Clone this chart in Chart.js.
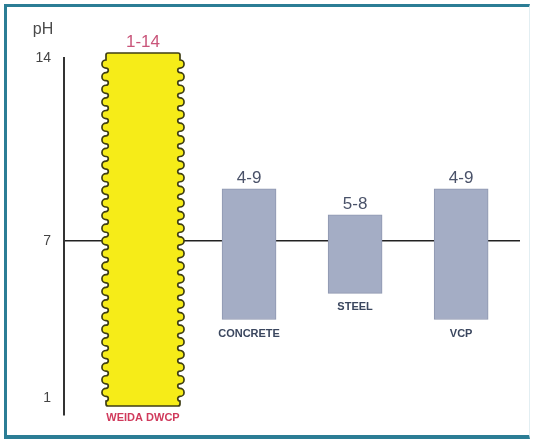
<!DOCTYPE html>
<html>
<head>
<meta charset="utf-8">
<script src="https://cdn.jsdelivr.net/npm/chart.js@4.4.0/dist/chart.umd.min.js"></script>
<style>
    body { margin: 0; background: #fff; }
    #wrap { position: relative; width: 533px; height: 440px; }
    #frame {
        position: absolute; left: 4px; top: 4px; width: 522px; height: 428px;
        border-left: 3px solid #2b7d95; border-top: 3px solid #2b7d95;
        border-bottom: 4px solid #2b7d95; border-right: 1px solid #e2eef2;
    }
    #phChart { position: absolute; left: 0; top: 0; }
</style>
</head>
<body>
<div id="wrap">
    <div id="frame"></div>
    <canvas id="phChart" width="533" height="440"></canvas>
</div>
<script>
const materials = ['WEIDA DWCP', 'CONCRETE', 'STEEL', 'VCP'];
const phLow = [1, 4, 5, 4];
const phHigh = [14, 9, 8, 9];
const yTicks = [1, 7, 14];

const rangeLabels = materials.map((m, i) => `${phLow[i]}-${phHigh[i]}`);

const weidaData = [{ x: 0, y: [phLow[0], phHigh[0]] }];
const otherData = materials.slice(1).map((m, i) => ({ x: i + 1, y: [phLow[i + 1], phHigh[i + 1]] }));

// yellow pipe with corrugated (wavy) edges
const wavyBar = {
    id: 'wavyBar',
    afterDatasetsDraw(chart) {
        const ctx = chart.ctx;
        const el = chart.getDatasetMeta(0).data[0];
        if (!el) return;
        const left = el.x - el.width / 2;
        const right = el.x + el.width / 2;
        const top = el.y - 5;
        const bottom = el.base + 8;
        const waveTop = top + 7;
        const waveBottom = bottom - 5;
        const count = Math.round((waveBottom - waveTop) / 12.6);
        const step = (waveBottom - waveTop) / count;
        const big = step * 0.32;   // outward bump radius
        const small = step * 0.18; // inward notch radius

        ctx.save();
        ctx.beginPath();
        ctx.moveTo(left + 2, top);
        ctx.lineTo(right - 2, top);
        ctx.quadraticCurveTo(right, top, right, top + 2);
        ctx.lineTo(right, waveTop);
        for (let i = 0; i < count; i++) {
            const y = waveTop + i * step;
            ctx.arc(right, y + big, big, -Math.PI / 2, Math.PI / 2, false);
            ctx.arc(right, y + 2 * big + small, small, -Math.PI / 2, Math.PI / 2, true);
        }
        ctx.lineTo(right, bottom - 2);
        ctx.quadraticCurveTo(right, bottom, right - 2, bottom);
        ctx.lineTo(left + 2, bottom);
        ctx.quadraticCurveTo(left, bottom, left, bottom - 2);
        ctx.lineTo(left, waveBottom);
        for (let i = 0; i < count; i++) {
            const y = waveBottom - i * step;
            ctx.arc(left, y - small, small, Math.PI / 2, -Math.PI / 2, true);
            ctx.arc(left, y - 2 * small - big, big, Math.PI / 2, -Math.PI / 2, false);
        }
        ctx.lineTo(left, top + 2);
        ctx.quadraticCurveTo(left, top, left + 2, top);
        ctx.closePath();
        ctx.fillStyle = '#f6ec18';
        ctx.fill();
        ctx.lineWidth = 1.7;
        ctx.strokeStyle = '#3f3e14';
        ctx.stroke();
        ctx.restore();
    }
};

// range labels above, names below each bar, plus the pH axis title
const barLabels = {
    id: 'barLabels',
    afterDatasetsDraw(chart) {
        const ctx = chart.ctx;
        const els = [chart.getDatasetMeta(0).data[0], ...chart.getDatasetMeta(1).data];
        ctx.save();
        ctx.textAlign = 'center';
        els.forEach((el, i) => {
            const weida = i === 0;
            const top = weida ? el.y - 5 : el.y;
            const bottom = weida ? el.base + 8 : el.base;
            ctx.fillStyle = weida ? '#c9557a' : '#4a5269';
            ctx.font = '17px "Liberation Sans", Arial, sans-serif';
            ctx.textBaseline = 'alphabetic';
            ctx.fillText(rangeLabels[i], el.x, top - 6);
            ctx.fillStyle = weida ? '#d03a5c' : '#3a465e';
            ctx.font = 'bold 11px "Liberation Sans", Arial, sans-serif';
            ctx.textBaseline = 'middle';
            ctx.fillText(materials[i], el.x, bottom + (weida ? 12 : 14));
        });
        const y = chart.scales.y;
        ctx.fillStyle = '#4a4a4a';
        ctx.font = '16px "Liberation Sans", Arial, sans-serif';
        ctx.textBaseline = 'middle';
        ctx.fillText('pH', y.right - 21, 30);
        ctx.restore();
    }
};

new Chart('phChart', {
    type: 'bar',
    data: {
        datasets: [
            {
                label: materials[0],
                data: weidaData,
                backgroundColor: 'transparent',
                borderWidth: 0,
                barThickness: 74
            },
            {
                label: 'others',
                data: otherData,
                backgroundColor: '#a4adc5',
                borderColor: '#8e97b0',
                borderWidth: 1,
                borderSkipped: false,
                barThickness: 54
            }
        ]
    },
    options: {
        responsive: false,
        animation: false,
        grouped: false,
        layout: { padding: { top: 58, right: 13, bottom: 25, left: 0 } },
        plugins: {
            legend: { display: false },
            tooltip: { enabled: false }
        },
        scales: {
            x: {
                type: 'linear',
                min: -0.745,
                max: 3.555,
                offset: false,
                display: false
            },
            y: {
                min: 0.35,
                max: 14,
                afterFit(scale) { scale.width = 64; },
                afterBuildTicks(scale) {
                    scale.ticks = yTicks.map(v => ({ value: v }));
                },
                ticks: {
                    padding: 13,
                    color: '#444',
                    font: { family: '"Liberation Sans", Arial, sans-serif', size: 14 }
                },
                grid: {
                    drawTicks: false,
                    lineWidth: 1.5,
                    color: ctx => ctx.tick && ctx.tick.value === 7 ? '#222' : 'rgba(0,0,0,0)'
                },
                border: { color: '#333', width: 2 }
            }
        }
    },
    plugins: [wavyBar, barLabels]
});
</script>
</body>
</html>
